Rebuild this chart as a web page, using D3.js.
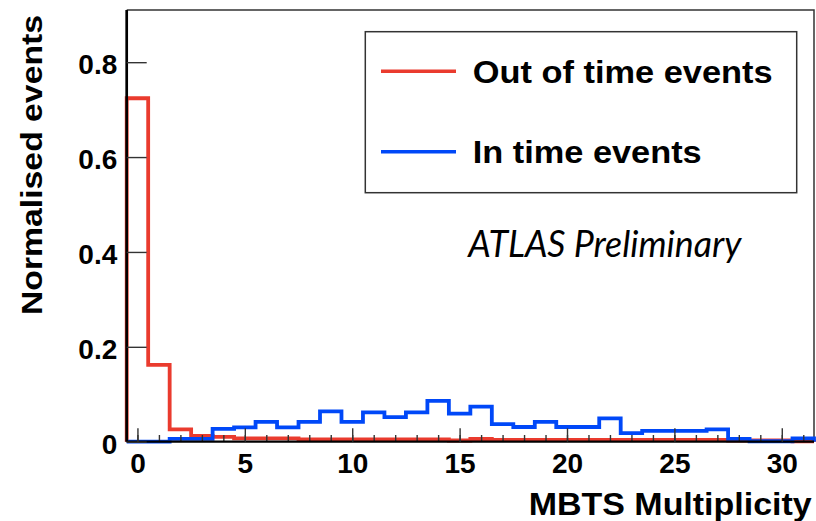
<!DOCTYPE html>
<html>
<head>
<meta charset="utf-8">
<script src="https://cdn.jsdelivr.net/npm/d3@7"></script>
<style>
  html, body { margin: 0; padding: 0; background: #fff; }
  svg { display: block; }
  text { font-family: "Liberation Sans", Arial, Helvetica, sans-serif; font-weight: bold; fill: #000; }
</style>
</head>
<body>
<svg id="chart" width="816" height="521"></svg>
<script>
// MBTS multiplicity, one bin per integer value 0..31
const bins = d3.range(0, 32);

// Out-of-time events (normalised)
const outOfTime = [
  0.724, 0.162, 0.026, 0.012, 0.010, 0.007, 0.007, 0.007,
  0.005, 0.005, 0.005, 0.005, 0.005, 0.005, 0.005, 0.0025,
  0.0057, 0.0036, 0.0036, 0.0036, 0.0036, 0.0036, 0.0036, 0.0036,
  0.0036, 0.0036, 0.0036, 0.0036, 0.0025, 0.0025, 0.0025, 0.0005
];

// In-time events (normalised)
const inTime = [
  0.000, 0.000, 0.006, 0.006, 0.027, 0.030, 0.042, 0.030,
  0.042, 0.064, 0.042, 0.062, 0.052, 0.062, 0.086, 0.059,
  0.074, 0.037, 0.031, 0.042, 0.031, 0.031, 0.049, 0.018,
  0.023, 0.023, 0.023, 0.026, 0.006, 0.001, 0.001, 0.007
];

const xMajorTicks = [0, 5, 10, 15, 20, 25, 30];
const xMinorTicks = d3.range(0, 32);
const yTicks = [0, 0.2, 0.4, 0.6, 0.8];

const seriesNames = ["Out of time events", "In time events"];
const seriesColors = ["#ea3b2e", "#0048f8"];

const svg = d3.select("#chart");

const plot = { left: 126.7, right: 814, top: 10, bottom: 441.7 };

const x = d3.scaleLinear().domain([-0.5, 31.5]).range([plot.left, plot.right]);
const y = d3.scaleLinear().domain([0, 0.91]).range([plot.bottom, plot.top]);

// Frame (top and right)
svg.append("path")
  .attr("d", `M${plot.left},${plot.top}H${plot.right}V${plot.bottom}`)
  .attr("fill", "none")
  .attr("stroke", "#333")
  .attr("stroke-width", 1.5);

// Step outline of a histogram
function stepPoints(values) {
  const pts = [[-0.5, 0]];
  values.forEach((v, i) => {
    pts.push([bins[i] - 0.5, v]);
    pts.push([bins[i] + 0.5, v]);
  });
  pts.push([31.5, 0]);
  return pts;
}

const line = d3.line().x(d => x(d[0])).y(d => y(d[1]));

[outOfTime, inTime].forEach((vals, k) => {
  svg.append("path")
    .attr("d", line(stepPoints(vals)))
    .attr("fill", "none")
    .attr("stroke", seriesColors[k])
    .attr("stroke-width", 3.8)
    .attr("stroke-linejoin", "miter");
});

// X axis: minor ticks at every integer, major ticks with labels every 5
const xMinor = svg.append("g")
  .attr("transform", `translate(0,${plot.bottom})`)
  .call(d3.axisBottom(x).tickValues(xMinorTicks).tickSize(-6.7).tickFormat(""));
xMinor.select(".domain").remove();
xMinor.selectAll(".tick line").attr("stroke", "#333").attr("stroke-width", 1.4);

const xMajor = svg.append("g")
  .attr("transform", `translate(0,${plot.bottom})`)
  .call(d3.axisBottom(x).tickValues(xMajorTicks).tickSize(-13.4).tickPadding(10).tickFormat(d3.format("d")));
xMajor.select(".domain")
  .attr("d", `M${plot.left},0H${plot.right}`)
  .attr("stroke", "#000")
  .attr("stroke-width", 2.2);
xMajor.selectAll(".tick line").attr("stroke", "#333").attr("stroke-width", 1.4);
xMajor.selectAll(".tick text")
  .attr("font-size", 28)
  .attr("font-family", "Liberation Sans, Arial, sans-serif")
  .attr("font-weight", "bold")
  .attr("fill", "#000")
  .attr("y", 0)
  .attr("dy", 31);

// Y axis
const yAxis = svg.append("g")
  .attr("transform", `translate(${plot.left},0)`)
  .call(d3.axisLeft(y).tickValues(yTicks).tickSize(-20).tickPadding(9.4)
    .tickFormat(d => d === 0 ? "0" : d3.format(".1f")(d)));
yAxis.select(".domain")
  .attr("d", `M0,${plot.top}V${plot.bottom}`)
  .attr("stroke", "#000")
  .attr("stroke-width", 2.7);
yAxis.selectAll(".tick line").attr("stroke", "#333").attr("stroke-width", 1.4);
yAxis.selectAll(".tick text")
  .attr("font-size", 28)
  .attr("font-family", "Liberation Sans, Arial, sans-serif")
  .attr("font-weight", "bold")
  .attr("fill", "#000")
  .attr("dy", 11.3);

// Axis titles
svg.append("text")
  .attr("x", 811.7)
  .attr("y", 515)
  .attr("text-anchor", "end")
  .attr("font-size", 32)
  .attr("textLength", 283)
  .attr("lengthAdjust", "spacingAndGlyphs")
  .text("MBTS Multiplicity");

svg.append("text")
  .attr("transform", "translate(41.7,165) rotate(-90)")
  .attr("text-anchor", "middle")
  .attr("font-size", 30)
  .attr("textLength", 300)
  .attr("lengthAdjust", "spacingAndGlyphs")
  .text("Normalised events");

// Legend
const legend = svg.append("g");
legend.append("rect")
  .attr("x", 365.3).attr("y", 31.7)
  .attr("width", 431.4).attr("height", 161)
  .attr("fill", "#fff")
  .attr("stroke", "#333")
  .attr("stroke-width", 1.5);

const legendRows = [
  { y: 71.3, base: 83.3, len: 300 },
  { y: 151.7, base: 163.3, len: 229 }
];
legendRows.forEach((r, k) => {
  legend.append("line")
    .attr("x1", 381).attr("x2", 456)
    .attr("y1", r.y).attr("y2", r.y)
    .attr("stroke", seriesColors[k])
    .attr("stroke-width", 3.6);
  legend.append("text")
    .attr("x", 472.7)
    .attr("y", r.base)
    .attr("font-size", 32)
    .attr("textLength", r.len)
    .attr("lengthAdjust", "spacingAndGlyphs")
    .text(seriesNames[k]);
});

// Experiment label
svg.append("text")
  .attr("x", 468.3)
  .attr("y", 256.7)
  .attr("font-family", "Lato, 'Open Sans', sans-serif")
  .attr("font-style", "italic")
  .attr("font-weight", "normal")
  .attr("font-size", 36)
  .attr("fill", "#111")
  .attr("textLength", 273)
  .attr("lengthAdjust", "spacingAndGlyphs")
  .style("font-weight", "normal")
  .style("font-family", "Lato, 'Open Sans', sans-serif")
  .text("ATLAS Preliminary");
</script>
</body>
</html>
